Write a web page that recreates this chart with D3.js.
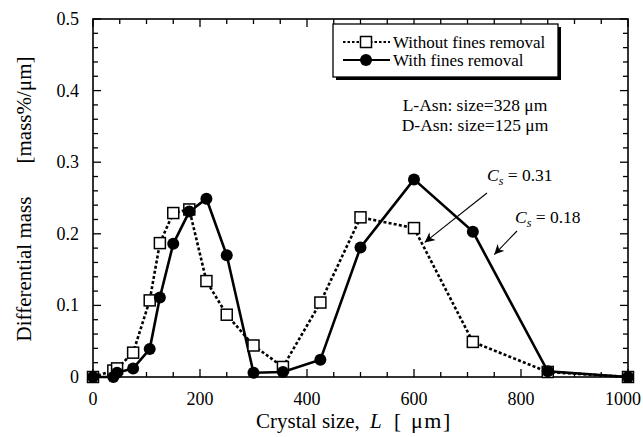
<!DOCTYPE html>
<html>
<head>
<meta charset="utf-8">
<script src="https://cdn.jsdelivr.net/npm/d3@7"></script>
<style>
  body { margin: 0; background: #fff; }
  svg { display: block; }
  text { font-family: "Liberation Serif", "Times New Roman", serif; fill: #000; }
</style>
</head>
<body>
<svg id="chart" width="643" height="437"></svg>
<script>
// Sieve sizes (μm) at which the distributions were measured
const sizes = [0, 38, 45, 75, 106, 125, 150, 180, 212, 250, 300, 355, 425, 500, 600, 710, 850, 1000];
// Differential mass [mass%/μm]
const withoutFines = [0, 0.009, 0.012, 0.034, 0.107, 0.187, 0.229, 0.234, 0.134, 0.087, 0.044, 0.014, 0.104, 0.223, 0.208, 0.049, 0.007, 0];
const withFines    = [0, 0.000, 0.006, 0.012, 0.039, 0.111, 0.186, 0.231, 0.249, 0.170, 0.006, 0.007, 0.024, 0.181, 0.276, 0.203, 0.008, 0];

const xTicks = [0, 200, 400, 600, 800, 1000];
const yTicks = [0, 0.1, 0.2, 0.3, 0.4, 0.5];
const legendLabels = ["Without fines removal", "With fines removal"];
const infoLines = ["L-Asn: size=328 μm", "D-Asn: size=125 μm"];
// Annotation: label value, and the point on the curve the arrow points to
const csNotes = [
  { value: "0.31", at: [620, 0.188] },
  { value: "0.18", at: [750, 0.171] }
];

const svg = d3.select("#chart");
const x = d3.scaleLinear().domain([0, 1000]).range([93, 628]);
const y = d3.scaleLinear().domain([0, 0.5]).range([377, 19]);

const x0 = x.range()[0], x1 = x.range()[1];
const y0 = y.range()[0], y1 = y.range()[1];

// Inward ticks on all four sides
const frame = svg.append("g");
const xMinor = d3.range(0, 1001, 50);
const yMinor = d3.range(0, 0.5001, 0.02);
function isMajorX(v) { return Math.abs(v % 200) < 1e-6; }
function isMajorY(v) { return Math.abs(Math.round(v * 10) - v * 10) < 1e-6; }

xMinor.forEach(v => {
  const len = isMajorX(v) ? 8 : 5;
  frame.append("line").attr("x1", x(v)).attr("x2", x(v)).attr("y1", y0).attr("y2", y0 - len)
    .attr("stroke", "#000").attr("stroke-width", 1.3);
  frame.append("line").attr("x1", x(v)).attr("x2", x(v)).attr("y1", y1).attr("y2", y1 + len)
    .attr("stroke", "#000").attr("stroke-width", 1.3);
});
yMinor.forEach(v => {
  const len = isMajorY(v) ? 8 : 5;
  frame.append("line").attr("x1", x0).attr("x2", x0 + len).attr("y1", y(v)).attr("y2", y(v))
    .attr("stroke", "#000").attr("stroke-width", 1.3);
  frame.append("line").attr("x1", x1).attr("x2", x1 - len).attr("y1", y(v)).attr("y2", y(v))
    .attr("stroke", "#000").attr("stroke-width", 1.3);
});
frame.append("rect").attr("x", x0).attr("y", y1).attr("width", x1 - x0).attr("height", y0 - y1)
  .attr("fill", "none").attr("stroke", "#000").attr("stroke-width", 1.6);

// Tick labels (the last one kept inside the window)
svg.append("g").selectAll("text").data(xTicks).join("text")
  .attr("x", d => x(d)).attr("y", y0 + 28).attr("text-anchor", "middle")
  .attr("font-size", 18).text(d => d)
  .each(function (d) {
    const w = this.getComputedTextLength();
    if (x(d) + w / 2 > 641) d3.select(this).attr("x", 641 - w / 2);
  });
svg.append("g").selectAll("text").data(yTicks).join("text")
  .attr("x", x0 - 14).attr("y", d => y(d)).attr("dy", "0.33em").attr("text-anchor", "end")
  .attr("font-size", 18).text(d => d === 0 ? "0" : d3.format(".1f")(d));

// Axis titles
const yt = svg.append("g").attr("transform", "translate(31,0) rotate(-90)").attr("font-size", 21);
yt.append("text").attr("x", -269).attr("y", 0).attr("text-anchor", "middle").text("Differential mass");
yt.append("text").attr("x", -110).attr("y", 0).attr("text-anchor", "middle").text("[mass%/μm]");

const xt = svg.append("g").attr("font-size", 21);
xt.append("text").attr("x", 256).attr("y", 428).text("Crystal size,");
xt.append("text").attr("x", 370).attr("y", 428).attr("font-style", "italic").text("L");
xt.append("text").attr("x", 394).attr("y", 428).text("[");
xt.append("text").attr("x", 411).attr("y", 428).attr("font-size", 22).attr("letter-spacing", 1.5).text("μm]");

// Series lines
const line = d3.line().x(d => x(d[0])).y(d => y(d[1]));
const ptsA = sizes.map((s, i) => [s, withoutFines[i]]);
const ptsB = sizes.map((s, i) => [s, withFines[i]]);

svg.append("path").datum(ptsA).attr("d", line).attr("fill", "none")
  .attr("stroke", "#000").attr("stroke-width", 2.6).attr("stroke-dasharray", "3,2.2");
svg.append("path").datum(ptsB).attr("d", line).attr("fill", "none")
  .attr("stroke", "#000").attr("stroke-width", 2.6);

// Markers
svg.append("g").selectAll("rect").data(ptsA).join("rect")
  .attr("x", d => x(d[0]) - 5.5).attr("y", d => y(d[1]) - 5.5)
  .attr("width", 11).attr("height", 11)
  .attr("fill", "#fff").attr("stroke", "#000").attr("stroke-width", 1.5);
svg.append("g").selectAll("circle").data(ptsB).join("circle")
  .attr("cx", d => x(d[0])).attr("cy", d => y(d[1])).attr("r", 6)
  .attr("fill", "#000");

// Legend with drop shadow
const lg = svg.append("g");
const lx = 333, ly = 24, lw = 225, lh = 53;
lg.append("rect").attr("x", lx + 3).attr("y", ly + 3).attr("width", lw).attr("height", lh).attr("fill", "#000");
lg.append("rect").attr("x", lx).attr("y", ly).attr("width", lw).attr("height", lh)
  .attr("fill", "#fff").attr("stroke", "#000").attr("stroke-width", 1.3);
const rows = [ly + 18, ly + 36];
lg.append("line").attr("x1", lx + 10).attr("x2", lx + 57).attr("y1", rows[0]).attr("y2", rows[0])
  .attr("stroke", "#000").attr("stroke-width", 2.2).attr("stroke-dasharray", "2.5,2");
lg.append("rect").attr("x", lx + 33 - 5.5).attr("y", rows[0] - 5.5).attr("width", 11).attr("height", 11)
  .attr("fill", "#fff").attr("stroke", "#000").attr("stroke-width", 1.5);
lg.append("line").attr("x1", lx + 10).attr("x2", lx + 57).attr("y1", rows[1]).attr("y2", rows[1])
  .attr("stroke", "#000").attr("stroke-width", 2.2);
lg.append("circle").attr("cx", lx + 33).attr("cy", rows[1]).attr("r", 6).attr("fill", "#000");
legendLabels.forEach((t, i) => {
  lg.append("text").attr("x", lx + 60).attr("y", rows[i] + 6).attr("font-size", 17).text(t);
});

// Info text
infoLines.forEach((t, i) => {
  svg.append("text").attr("x", 475).attr("y", 111 + i * 20).attr("text-anchor", "middle")
    .attr("font-size", 17.5).text(t);
});

// Arrow marker
svg.append("defs").append("marker").attr("id", "arrow")
  .attr("viewBox", "0 0 10 10").attr("refX", 10).attr("refY", 5)
  .attr("markerWidth", 10).attr("markerHeight", 10).attr("markerUnits", "userSpaceOnUse")
  .attr("orient", "auto")
  .append("path").attr("d", "M0,0 L10,5 L0,10 L3,5 Z").attr("fill", "#000");

// C_s annotations
const notePos = [
  { tx: 487, ty: 181, from: [487, 193] },
  { tx: 515, ty: 223, from: [517, 231] }
];
csNotes.forEach((n, i) => {
  const p = notePos[i];
  const t = svg.append("text").attr("x", p.tx).attr("y", p.ty).attr("font-size", 17.5);
  t.append("tspan").attr("font-style", "italic").text("C");
  t.append("tspan").attr("font-style", "italic").attr("font-size", 12).attr("dy", 4).text("s");
  t.append("tspan").attr("dy", -4).text(" = " + n.value);
  svg.append("line").attr("x1", p.from[0]).attr("y1", p.from[1])
    .attr("x2", x(n.at[0])).attr("y2", y(n.at[1]))
    .attr("stroke", "#000").attr("stroke-width", 1.1).attr("marker-end", "url(#arrow)");
});
</script>
</body>
</html>
